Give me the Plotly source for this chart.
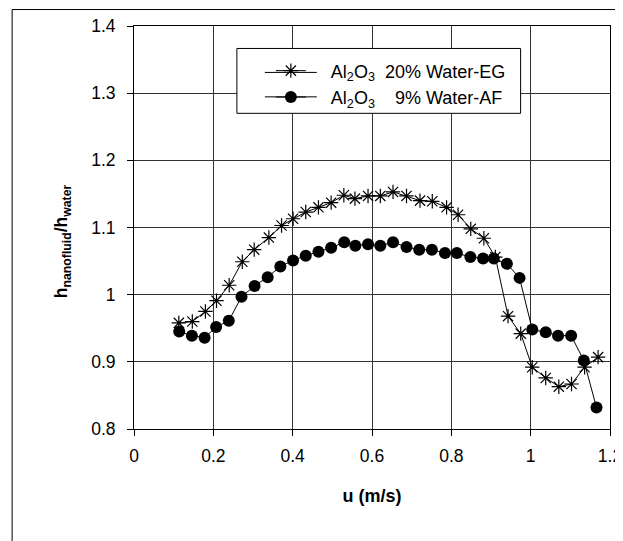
import plotly.graph_objects as go

# Data
u_eg = [0.113, 0.147, 0.180, 0.208, 0.240, 0.273, 0.303, 0.340, 0.372, 0.401,
        0.433, 0.465, 0.497, 0.529, 0.557, 0.590, 0.621, 0.653, 0.687, 0.721,
        0.752, 0.788, 0.817, 0.849, 0.882, 0.911, 0.943, 0.975, 1.004, 1.038,
        1.071, 1.103, 1.136, 1.170]
h_eg = [0.958, 0.960, 0.975, 0.991, 1.014, 1.049, 1.067, 1.085, 1.103, 1.113,
        1.123, 1.130, 1.137, 1.148, 1.143, 1.147, 1.147, 1.153, 1.147, 1.140,
        1.139, 1.130, 1.119, 1.098, 1.084, 1.056, 0.968, 0.942, 0.892, 0.876,
        0.863, 0.867, 0.892, 0.907]

u_af = [0.114, 0.146, 0.178, 0.207, 0.239, 0.271, 0.304, 0.337, 0.369, 0.401,
        0.433, 0.465, 0.497, 0.530, 0.558, 0.590, 0.621, 0.653, 0.687, 0.719,
        0.751, 0.784, 0.814, 0.848, 0.880, 0.907, 0.940, 0.972, 1.004, 1.038,
        1.069, 1.102, 1.134, 1.166]
h_af = [0.945, 0.939, 0.936, 0.952, 0.961, 0.997, 1.013, 1.026, 1.042, 1.051,
        1.058, 1.064, 1.070, 1.078, 1.073, 1.075, 1.073, 1.078, 1.071, 1.067,
        1.067, 1.062, 1.062, 1.056, 1.054, 1.054, 1.046, 1.025, 0.948, 0.944,
        0.939, 0.939, 0.902, 0.832]

x_ticks = [0, 0.2, 0.4, 0.6, 0.8, 1.0, 1.2]
x_ticktext = ["0", "0.2", "0.4", "0.6", "0.8", "1", "1.2"]
y_ticks = [0.8, 0.9, 1.0, 1.1, 1.2, 1.3, 1.4]
y_ticktext = ["0.8", "0.9", "1", "1.1", "1.2", "1.3", "1.4"]

NB = "\u00a0"
name_eg = NB * 4 + "Al<sub>2</sub>O<sub>3</sub>" + NB * 2 + "20% Water-EG"
name_af = NB * 4 + "Al<sub>2</sub>O<sub>3</sub>" + NB * 4 + "9% Water-AF"
x_title = "<b>u (m/s)</b>"
y_title = "<b>h<sub>nanofluid</sub>/h<sub>water</sub></b>"

FONT = "Liberation Sans, Arial, sans-serif"

fig = go.Figure()
fig.add_trace(go.Scatter(
    x=u_eg, y=h_eg, mode="lines+markers", name=name_eg,
    line=dict(color="black", width=1),
    marker=dict(symbol="asterisk-open", size=12, color="black",
                line=dict(color="black", width=1.2)),
))
fig.add_trace(go.Scatter(
    x=u_af, y=h_af, mode="lines+markers", name=name_af,
    line=dict(color="black", width=1),
    marker=dict(symbol="circle", size=12, color="black",
                line=dict(color="black", width=0)),
))

# page has an 8px body margin: figure is drawn 8px right/down
W, H = 615, 533
L, R, T, B = 126, 12.5, 17.5, 111.7
pw, ph = W - L - R, H - T - B


def px(fx):
    return (fx - L) / pw


def py(fy):
    return (H - B - fy) / ph


fig.update_layout(
    width=W, height=H,
    margin=dict(l=L, r=R, t=T, b=B, autoexpand=False),
    paper_bgcolor="white", plot_bgcolor="white",
    font=dict(family=FONT, size=16, color="black"),
    showlegend=True,
    legend=dict(
        x=px(263), y=py(44),
        xanchor="left", yanchor="top",
        bgcolor="rgba(0,0,0,0)", borderwidth=0,
        font=dict(family=FONT, size=18, color="black"),
        tracegroupgap=0, itemsizing="trace",
    ),
    xaxis=dict(
        range=[0, 1.2], tickvals=x_ticks, ticktext=x_ticktext,
        showgrid=True, gridcolor="#333333", gridwidth=1,
        showline=True, linecolor="black", linewidth=1, mirror=True,
        ticks="outside", ticklen=6, tickcolor="black",
        tickfont=dict(size=17.5), ticklabelstandoff=5,
        zeroline=False, automargin=False,
        title=dict(text=x_title, font=dict(size=18), standoff=24),
    ),
    yaxis=dict(
        range=[0.8, 1.4], tickvals=y_ticks, ticktext=y_ticktext,
        showgrid=True, gridcolor="#333333", gridwidth=1,
        showline=True, linecolor="black", linewidth=1, mirror=True,
        ticks="outside", ticklen=6, tickcolor="black",
        tickfont=dict(size=17.5), ticklabelstandoff=8,
        zeroline=False, automargin=False,
    ),
    annotations=[dict(
        text=y_title, textangle=-90, showarrow=False,
        xref="paper", yref="paper", x=px(54), y=py(233),
        xanchor="center", yanchor="middle",
        font=dict(family=FONT, size=17.5, color="black"),
    )],
    shapes=[
        dict(type="rect", xref="paper", yref="paper",
             x0=px(4), x1=1.2, y0=-0.6, y1=py(1),
             line=dict(color="black", width=1), fillcolor="rgba(0,0,0,0)",
             layer="below"),
        dict(type="rect", xref="paper", yref="paper",
             x0=px(229), x1=px(513), y0=py(105), y1=py(40),
             line=dict(color="black", width=1), fillcolor="white",
             layer="above"),
        dict(type="line", xref="paper", yref="paper",
             x0=px(257), x1=px(309), y0=py(64), y1=py(64),
             line=dict(color="black", width=1), layer="above"),
        dict(type="line", xref="paper", yref="paper",
             x0=px(257), x1=px(309), y0=py(88.5), y1=py(88.5),
             line=dict(color="black", width=1), layer="above"),
    ],
)

fig.write_html("out.html")
